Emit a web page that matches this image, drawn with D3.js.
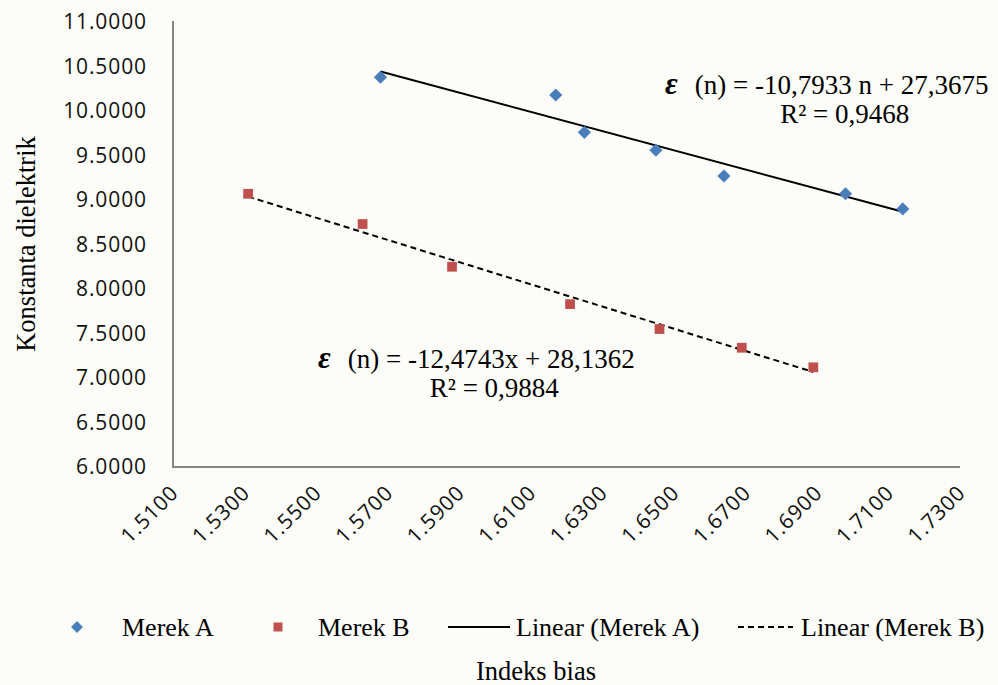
<!DOCTYPE html>
<html>
<head>
<meta charset="utf-8">
<script src="https://cdn.jsdelivr.net/npm/d3@7"></script>
<style>
  html, body { margin: 0; padding: 0; background: #fcfcf8; }
  svg { display: block; }
</style>
</head>
<body>
<svg id="chart" width="998" height="685"></svg>
<script>
// Refractive index (Indeks bias) vs dielectric constant for two brands
const merekA_n   = [1.568, 1.617, 1.625, 1.645, 1.664, 1.698, 1.714];
const merekA_eps = [10.38, 10.18, 9.76, 9.56, 9.27, 9.07, 8.90];
const merekB_n   = [1.531, 1.563, 1.588, 1.621, 1.646, 1.669, 1.689];
const merekB_eps = [9.07, 8.73, 8.25, 7.83, 7.55, 7.34, 7.12];

// Linear fits reported on the chart
const fitA = { slope: -10.7933, intercept: 27.3675 };
const fitB = { slope: -12.4743, intercept: 28.1362 };

const xTicks = [1.51, 1.53, 1.55, 1.57, 1.59, 1.61, 1.63, 1.65, 1.67, 1.69, 1.71, 1.73];
const yTicks = [6, 6.5, 7, 7.5, 8, 8.5, 9, 9.5, 10, 10.5, 11];

const legendLabels = ["Merek A", "Merek B", "Linear (Merek A)", "Linear (Merek B)"];

const svg = d3.select("#chart");
const serif = "'Liberation Serif', 'Times New Roman', serif";
const sans = "'Open Sans', 'DejaVu Sans', sans-serif";
const blue = "#4A7EBB", red = "#C0504D", axisGray = "#868686";

const plot = { left: 173, right: 960, top: 22, bottom: 467 };
const x = d3.scaleLinear().domain([1.51, 1.73]).range([plot.left, plot.right]);
const y = d3.scaleLinear().domain([6, 11]).range([plot.bottom, plot.top]);

// Y axis
const yAxis = d3.axisLeft(y).tickValues(yTicks).tickFormat(d3.format(".4f")).tickSize(0).tickPadding(26);
const gy = svg.append("g").attr("transform", `translate(${plot.left},0)`).call(yAxis);
gy.select(".domain").attr("stroke", axisGray).attr("stroke-width", 2).attr("d", `M0,${plot.top - 1}V${plot.bottom}`);
gy.selectAll("text").attr("font-family", sans).attr("font-size", 21).attr("letter-spacing", "0.9px").attr("fill", "#111");

// X axis
const xAxis = d3.axisBottom(x).tickValues(xTicks).tickFormat(d3.format(".4f")).tickSize(0);
const gx = svg.append("g").attr("transform", `translate(0,${plot.bottom})`).call(xAxis);
gx.select(".domain").attr("stroke", axisGray).attr("stroke-width", 2).attr("d", `M${plot.left - 1},0H${plot.right}`);
gx.selectAll("text")
  .attr("font-family", sans).attr("font-size", 21).attr("letter-spacing", "0.9px").attr("fill", "#111")
  .attr("text-anchor", "end").attr("dy", "0.35em").attr("y", 0)
  .attr("transform", `translate(1,22) rotate(-45)`);

// Trend lines spanning each series' data range
function trend(ns, fit) {
  const n0 = d3.min(ns), n1 = d3.max(ns);
  return [[n0, fit.slope * n0 + fit.intercept], [n1, fit.slope * n1 + fit.intercept]];
}
const line = d3.line().x(d => x(d[0])).y(d => y(d[1]));
svg.append("path").attr("d", line(trend(merekA_n, fitA)))
  .attr("stroke", "#000").attr("stroke-width", 2).attr("fill", "none");
svg.append("path").attr("d", line(trend(merekB_n, fitB)))
  .attr("stroke", "#000").attr("stroke-width", 2).attr("stroke-dasharray", "6,4").attr("fill", "none");

// Markers
const diamond = d3.symbol().type(d3.symbolDiamond2).size(110);
const square = d3.symbol().type(d3.symbolSquare).size(95);
svg.append("g").selectAll("path").data(d3.zip(merekA_n, merekA_eps)).join("path")
  .attr("d", diamond).attr("fill", blue)
  .attr("transform", d => `translate(${x(d[0])},${y(d[1])})`);
svg.append("g").selectAll("path").data(d3.zip(merekB_n, merekB_eps)).join("path")
  .attr("d", square).attr("fill", red)
  .attr("transform", d => `translate(${x(d[0])},${y(d[1])})`);

// Equation labels
function fmt(v) { return d3.format(".4f")(Math.abs(v)).replace(".", ","); }
function equation(x0, baseline, fit, varName, r2) {
  const g = svg.append("g");
  const t = g.append("text").attr("x", x0).attr("y", baseline)
    .attr("font-family", serif).attr("font-size", 27).attr("fill", "#000");
  t.append("tspan").text("ε").attr("font-style", "italic").attr("font-weight", "bold").attr("font-size", 31);
  t.append("tspan").attr("dx", 17).text(`(n) = -${fmt(fit.slope)}${varName} + ${fmt(fit.intercept)}`);
  const w = t.node().getComputedTextLength() + 17;
  g.append("text").attr("x", x0 + w / 2 + 18).attr("y", baseline + 29).attr("text-anchor", "middle")
    .attr("font-family", serif).attr("font-size", 27).attr("fill", "#000")
    .text(`R² = ${r2}`);
}
equation(665, 94, fitA, " n", "0,9468");
equation(318, 368, fitB, "x", "0,9884");

// Axis titles
svg.append("text").attr("transform", "translate(35,244) rotate(-90)").attr("text-anchor", "middle")
  .attr("font-family", serif).attr("font-size", 26.5).attr("fill", "#000").text("Konstanta dielektrik");
svg.append("text").attr("x", 536).attr("y", 680).attr("text-anchor", "middle")
  .attr("font-family", serif).attr("font-size", 26.5).attr("fill", "#000").text("Indeks bias");

// Legend
const legendY = 627;
const legendLayout = [
  { sym: 77, text: 122 }, { sym: 278, text: 318 },
  { x0: 448, x1: 510, text: 516 }, { x0: 738, x1: 793, text: 801 }
];
const lg = svg.append("g");
lg.append("path").attr("d", d3.symbol().type(d3.symbolDiamond2).size(90)).attr("fill", blue)
  .attr("transform", `translate(${legendLayout[0].sym},${legendY})`);
lg.append("path").attr("d", d3.symbol().type(d3.symbolSquare).size(80)).attr("fill", red)
  .attr("transform", `translate(${legendLayout[1].sym},${legendY})`);
lg.append("line").attr("x1", legendLayout[2].x0).attr("x2", legendLayout[2].x1)
  .attr("y1", legendY).attr("y2", legendY).attr("stroke", "#000").attr("stroke-width", 2);
lg.append("line").attr("x1", legendLayout[3].x0).attr("x2", legendLayout[3].x1)
  .attr("y1", legendY).attr("y2", legendY).attr("stroke", "#000").attr("stroke-width", 2).attr("stroke-dasharray", "6,4");
legendLabels.forEach((lab, i) => {
  lg.append("text").attr("x", legendLayout[i].text).attr("y", legendY + 9)
    .attr("font-family", serif).attr("font-size", 26).attr("fill", "#000").text(lab);
});
</script>
</body>
</html>
